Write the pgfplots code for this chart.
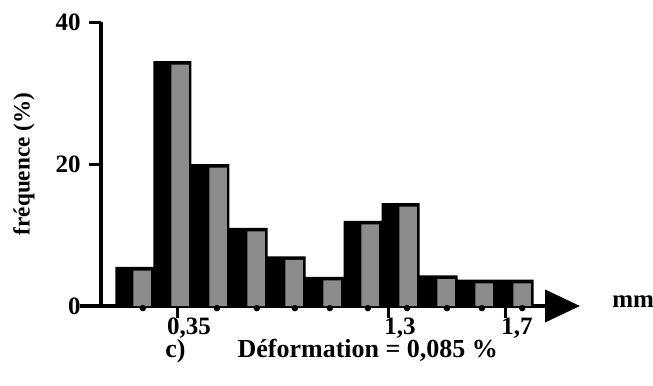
\documentclass[border=0pt]{standalone}
\usepackage{fontspec}
\setmainfont{Liberation Serif}
\usepackage{pgfplots}
\pgfplotsset{compat=1.18}
\usepackage{pgfplotstable}
\usetikzlibrary{arrows.meta}

\pgfplotstableread{
x f
0 5.5
1 34.5
2 20
3 11
4 7
5 4.1
6 12
7 14.5
8 4.3
9 3.7
10 3.7
}\datatable

\pgfplotstableread{
x y
0.22 -0.3
2.17 -0.3
3.22 -0.3
4.22 -0.3
5.14 -0.3
6.14 -0.3
7.17 -0.3
8.22 -0.3
9.14 -0.3
10.2 -0.3
}\dotstable

\newcommand{\lfont}{\fontsize{12.5bp}{15bp}\selectfont\bfseries}

\begin{document}
\lfont
\begin{tikzpicture}
\path[use as bounding box] (-50.5bp,-40bp) rectangle (276bp,153bp);
\begin{axis}[
  at={(0,0)}, anchor=south west,
  scale only axis, width=239.5bp, height=142bp,
  xmin=-0.88, xmax=11.72, ymin=0, ymax=40,
  clip=false,
  axis x line=bottom, axis y line=left,
  axis line style={line width=2bp, black},
  x axis line style={-{Triangle[length=17.5bp,width=16bp]}},
  y axis line style={-},
  ytick={0,20,40},
  xtick={1.12,6.67,9.75},
  xticklabels={{0,35},{1,3},{1,7}},
  tick align=outside, major tick length=6bp,
  tick style={line width=1.5bp, black},
  minor tick num=0,
  /pgf/number format/assume math mode=true,
  tick label style={font=\lfont},
  xticklabel style={anchor=north, xshift=6bp, text height=9bp, text depth=2bp, inner sep=0pt, yshift=1bp},
  yticklabel style={inner sep=0pt, xshift=-4bp},
  ylabel={fréquence (\%)},
  ylabel style={at={(rel axis cs:-0.161,0.5)}, anchor=center, font=\fontsize{11.6bp}{14bp}\selectfont\bfseries},
  xlabel={c)\hspace{26bp}Déformation = 0,085 \%},
  xlabel style={at={(rel axis cs:0.1336,-0.182)}, anchor=base west, inner sep=0pt, font=\fontsize{13bp}{15bp}\selectfont\bfseries},
]
\addplot[ybar, bar width=1.0, fill=black, draw=none] table[x=x, y=f] {\datatable};
\addplot[ybar, bar width=0.46, bar shift=0.2, fill=black!45, draw=none] table[x=x, y expr=\thisrow{f}-0.5] {\datatable};
\addplot[only marks, mark=*, mark size=1.4bp, black] table[x=x, y=y] {\dotstable};
\draw[line width=2bp] (rel axis cs:-0.044,0) -- (rel axis cs:0,0);
\node[anchor=base west, inner sep=0pt, font=\lfont] at (rel axis cs:1.0668,-0.007) {mm};
\end{axis}
\end{tikzpicture}
\end{document}
